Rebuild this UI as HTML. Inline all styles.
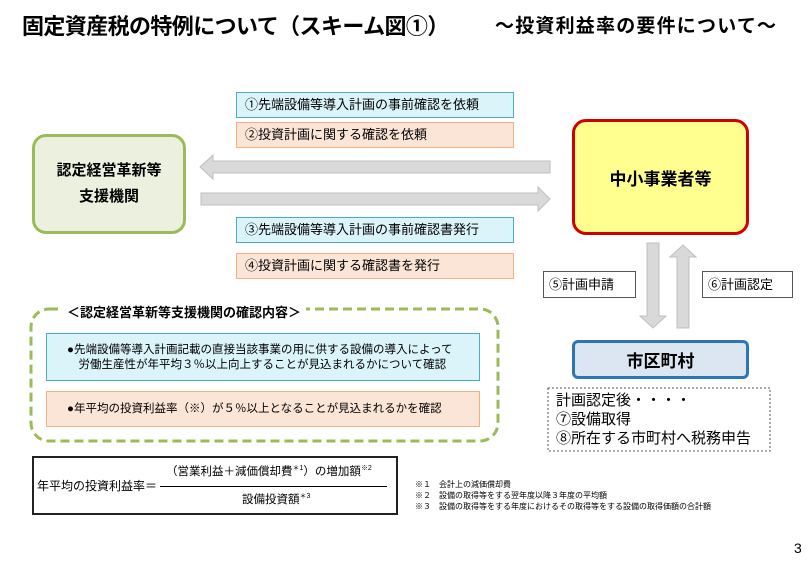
<!DOCTYPE html>
<html><head><meta charset="utf-8"><style>
*{margin:0;padding:0;box-sizing:border-box}
body{width:812px;height:562px;background:#fff;position:relative;overflow:hidden;font-family:"Liberation Sans","Noto Sans CJK JP",sans-serif;color:#000}
.a{position:absolute}
.lbl{position:absolute;font-size:13px;line-height:23px;padding-left:8px;white-space:nowrap}
.cy{background:#dbf4fa;border:1.5px solid #4bacc6}
.pe{background:#fbe5d6;border:1.5px solid #f4b183}
.c{display:flex;align-items:center;justify-content:center;text-align:center}
</style></head><body>
<div class="a" style="left:22px;top:9px;font-size:22px;font-weight:bold;white-space:nowrap;letter-spacing:-0.6px">固定資産税の特例について（スキーム図①）</div>
<div class="a" style="left:495px;top:11px;font-size:19px;font-weight:bold;white-space:nowrap;letter-spacing:1.2px">～投資利益率の要件について～</div>

<div class="lbl cy" style="left:236px;top:92px;width:278px;height:26px">①先端設備等導入計画の事前確認を依頼</div>
<div class="lbl pe" style="left:236px;top:122px;width:278px;height:26px">②投資計画に関する確認を依頼</div>
<div class="lbl cy" style="left:236px;top:217px;width:278px;height:26px">③先端設備等導入計画の事前確認書発行</div>
<div class="lbl pe" style="left:236px;top:253px;width:278px;height:26px">④投資計画に関する確認書を発行</div>

<div class="a c" style="left:32px;top:134px;width:154px;height:100px;background:#ebf1de;border:3px solid #9bbb59;border-radius:14px;font-weight:bold;font-size:15px;line-height:26px">認定経営革新等<br>支援機関</div>
<div class="a c" style="left:572px;top:119px;width:177px;height:116px;background:#ffff8f;border:3px solid #d00000;border-radius:14px;font-weight:bold;font-size:17px">中小事業者等</div>
<div class="a c" style="left:572px;top:340px;width:177px;height:39px;background:#dce6f2;border:3px solid #2e75b6;border-radius:6px;font-weight:bold;font-size:17px">市区町村</div>

<svg class="a" style="left:0;top:0" width="812" height="562">
<polygon points="200,167 213,155 213,161 550,161 550,173 213,173 213,179" fill="#d9d9d9" stroke="#bfbfbf" stroke-width="1"/>
<polygon points="201,193 538,193 538,187 550,199 538,211 538,205 201,205" fill="#d9d9d9" stroke="#bfbfbf" stroke-width="1"/>
<polygon points="647,243 659,243 659,316 666,316 653,328 640,316 647,316" fill="#d9d9d9" stroke="#bfbfbf"/>
<polygon points="677,328 677,257 670,257 683,245 696,257 689,257 689,328" fill="#d9d9d9" stroke="#bfbfbf"/>
<rect x="31" y="309" width="467" height="132" rx="18" fill="none" stroke="#9bbb59" stroke-width="3" stroke-dasharray="9,5"/>
<rect x="548" y="388" width="222" height="63" fill="none" stroke="#555" stroke-width="1" stroke-dasharray="2,2"/>
</svg>
<div class="a" style="left:62px;top:302px;background:#fff;padding:0 5px;font-size:13px;font-weight:bold;white-space:nowrap">＜認定経営革新等支援機関の確認内容＞</div>
<div class="a cy" style="left:46px;top:333px;width:434px;height:48px;font-size:11.5px;line-height:15px;padding:9px 0 0 20px">●先端設備等導入計画記載の直接当該事業の用に供する設備の導入によって<br>　労働生産性が年平均３％以上向上することが見込まれるかについて確認</div>
<div class="a pe" style="left:46px;top:391px;width:434px;height:36px;font-size:11.5px;line-height:34px;padding-left:20px">●年平均の投資利益率（※）が５％以上となることが見込まれるかを確認</div>

<div class="lbl a" style="left:543px;top:271px;width:93px;height:27px;border:1px solid #555;background:#fff;font-size:13px;line-height:25px;padding-left:5px">⑤計画申請</div>
<div class="lbl a" style="left:702px;top:271px;width:91px;height:27px;border:1px solid #555;background:#fff;font-size:13px;line-height:25px;padding-left:5px">⑥計画認定</div>
<div class="a" style="left:556px;top:391px;font-size:15px;line-height:19px;white-space:nowrap">計画認定後・・・・<br>⑦設備取得<br>⑧所在する市町村へ税務申告</div>

<div class="a" style="left:32px;top:456px;width:366px;height:59px;border:2px solid #222"></div>
<div class="a" style="left:37px;top:477px;font-size:12px;white-space:nowrap">年平均の投資利益率＝</div>
<div class="a" style="left:160px;top:486px;width:227px;height:1px;background:#000"></div>
<div class="a" style="left:166px;top:463px;font-size:11.5px;white-space:nowrap">（営業利益＋減価償却費<sup style="font-size:7px">＊1</sup>）の増加額<sup style="font-size:7px">※2</sup></div>
<div class="a" style="left:242px;top:491px;font-size:11.5px;white-space:nowrap">設備投資額<sup style="font-size:7px">＊3</sup></div>
<div class="a" style="left:415px;top:479px;font-size:8px;line-height:11px;white-space:nowrap">※１　会計上の減価償却費<br>※２　設備の取得等をする翌年度以降３年度の平均額<br>※３　設備の取得等をする年度におけるその取得等をする設備の取得価額の合計額</div>
<div class="a" style="left:794px;top:540px;font-size:14px">3</div>
</body></html>
